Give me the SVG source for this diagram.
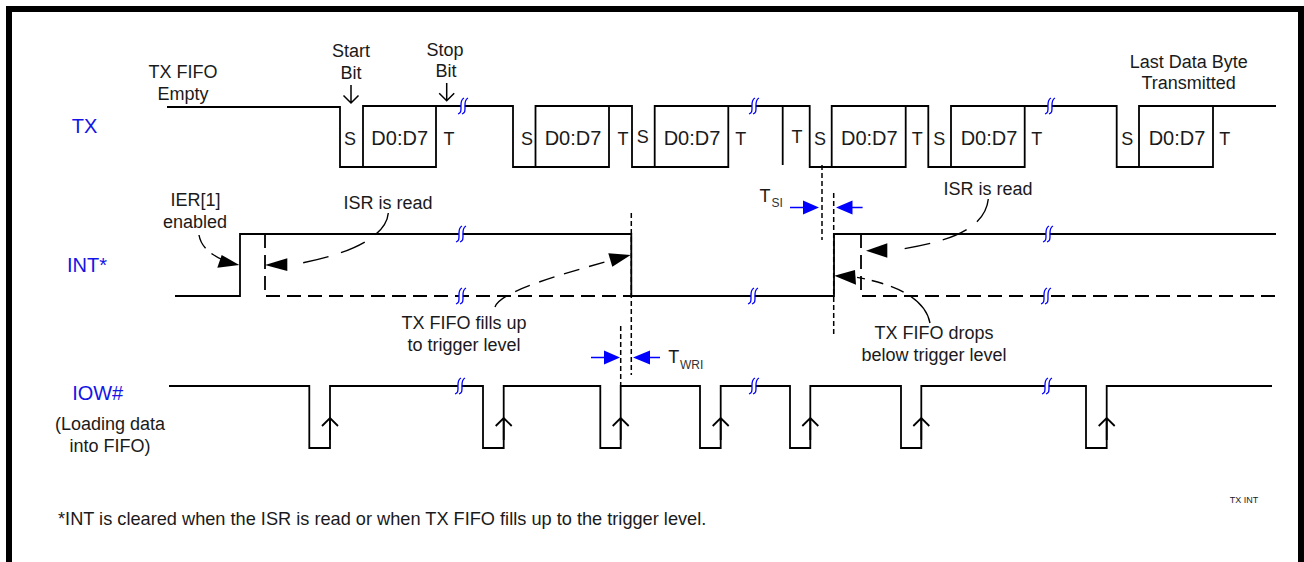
<svg xmlns="http://www.w3.org/2000/svg" width="1304" height="562" viewBox="0 0 1304 562">
<defs>
<style>
text{font-family:"Liberation Sans",Arial,sans-serif;font-size:18px;fill:#1a1a1a;text-anchor:middle}
.st{font-size:20px}
.lb{fill:#1414e6;font-size:20px}
.sub{font-size:12px;fill:#333;text-anchor:start}
.w{fill:none;stroke:#000;stroke-width:1.8}
.d{fill:none;stroke:#000;stroke-width:1.8;stroke-dasharray:14 7}
.dc{fill:none;stroke:#000;stroke-width:1.4;stroke-dasharray:26 13}
.do{fill:none;stroke:#000;stroke-width:1.5;stroke-dasharray:5 3}
.bl{stroke:#0000ff;stroke-width:1.3;fill:none}
.bf{fill:#0000ff}
.k{fill:#000}
.up{fill:none;stroke:#000;stroke-width:1.8}
</style>
<g id="brk"><path d="M1,-8C-3,-6 -2,-1 -2,2C-2,5 -2,7 -5,8H-1C2,7 2,5 2,2C2,-1 1,-6 5,-8Z" fill="#fff" stroke="none"/><path d="M1,-8C-3,-6 -2,-1 -2,2C-2,5 -2,7 -5,8M5,-8C1,-6 2,-1 2,2C2,5 2,7 -1,8" fill="none" stroke="#0000ff" stroke-width="1.3"/></g>
<path id="upa" d="M0,22V0M-8,8L0,0L8,8" class="up"/>
</defs>
<rect id="bg" width="1304" height="562" fill="#fff"/>
<path id="frame" d="M6,6H1304V562H1298V12H12V562H6Z" fill="#000"/>

<g id="connectors">
<!-- TX -->
<path class="w" d="M167,107H340V167H363M363,167V106H436M363,167H436V106H513V167H535.5V106H609M535.5,167H609V106H632V167H654.7V106H728.3M654.7,167H728.3V106H809.7V167H831.7V106H905.7M831.7,167H905.7V106H928.3V167H951V106H1024.7M951,167H1024.7V106H1116.7V167H1139V106H1213M1139,167H1213V106H1276"/>
<path class="w" d="M782.7,106V165"/>
<!-- INT -->
<path class="w" d="M175,296H240V234H631.3V296H834V234H1276"/>
<path class="d" d="M265,234V296H631"/>
<path class="d" d="M861,234V296H1276"/>
<!-- IOW -->
<path class="w" d="M169,386H309.3V448H330V386H483V448H503.7V386H600.3V448H620.7V386H700V448H720.7V386H790V448H810.3V386H901V448H921.3V386H1086V448H1106.7V386H1272"/>
<use href="#upa" x="330" y="418"/>
<use href="#upa" x="503.7" y="418"/>
<use href="#upa" x="620.7" y="418"/>
<use href="#upa" x="720.7" y="418"/>
<use href="#upa" x="810.3" y="418"/>
<use href="#upa" x="921.3" y="418"/>
<use href="#upa" x="1106.7" y="418"/>
<!-- timing guides -->
<path class="do" d="M631.3,213V375"/>
<path class="do" d="M620.7,326V386"/>
<path class="do" d="M822,165V240"/>
<path class="do" d="M833.7,193V335"/>
<!-- blue arrows -->
<path class="bl" d="M790,207.5H805M846,207.5H862.6M591,357.5H606M648,357.5H660"/>
<path class="bf" d="M819,207.5L803,200.5V214.5ZM836,207.5L852.5,200.5V214.5ZM620,357.5L604,350.5V364.5ZM633,357.5L650,350.5V364.5Z"/>
<!-- callouts -->
<path class="dc" style="stroke-dasharray:15 8" d="M199,235C201,247 211,255 225,261"/>
<path class="k" d="M239.3,265L217.3,267.7L221.7,255Z"/>
<path class="dc" d="M388.3,213C386,240 340,256 299,263.5"/>
<path class="k" d="M265,265L287.3,258.3V271Z"/>
<path class="dc" style="stroke-dasharray:16 10" d="M495,307C500,292 555,276 612,260"/>
<path class="k" d="M630.7,255L608.3,253.3L612.3,266.7Z"/>
<path class="dc" d="M988.3,199C985,232 940,243 899,249.5"/>
<path class="k" d="M866,250.7L887.3,243.3V257.7Z"/>
<path class="dc" style="stroke-dasharray:34 8 14 8 12 7 8" d="M930,323C925,298 895,284 855,277"/>
<path class="k" d="M834.3,275.7L855,270L856,284.7Z"/>
<!-- breaks -->
<use href="#brk" x="463" y="106"/>
<use href="#brk" x="754" y="106"/>
<use href="#brk" x="1050" y="106"/>
<use href="#brk" x="461" y="234"/>
<use href="#brk" x="1048" y="234"/>
<use href="#brk" x="461" y="296"/>
<use href="#brk" x="753" y="296"/>
<use href="#brk" x="1046" y="296"/>
<use href="#brk" x="460" y="386"/>
<use href="#brk" x="754" y="386"/>
<use href="#brk" x="1047" y="386"/>
<!-- bit pointers -->
<path class="w" style="stroke-width:1.5" d="M351,85V103M343.5,95.5L351,103L358.5,95.5"/>
<path class="w" style="stroke-width:1.5" d="M446.7,83V100.7M439.2,93.2L446.7,100.7L454.2,93.2"/>
</g>

<g id="label-tx"><text class="lb" x="84.5" y="132.5">TX</text></g>
<g id="label-int"><text class="lb" x="87" y="272">INT*</text></g>
<g id="label-iow"><text class="lb" x="97.7" y="400">IOW#</text></g>
<g id="note-iow"><text x="110" y="430">(Loading data</text><text x="110" y="451.7">into FIFO)</text></g>
<g id="note-empty"><text x="183" y="78.3">TX FIFO</text><text x="183" y="100">Empty</text></g>
<g id="note-start"><text x="351" y="57.3">Start</text><text x="351" y="79.3">Bit</text></g>
<g id="note-stop"><text x="445" y="55.7">Stop</text><text x="446" y="77.3">Bit</text></g>
<g id="note-last"><text x="1188.7" y="67.7">Last Data Byte</text><text x="1188.7" y="89">Transmitted</text></g>
<g id="bits">
<text x="350" y="144.5">S</text><text class="st" x="399.7" y="145">D0:D7</text><text x="449" y="145">T</text>
<text x="527" y="145">S</text><text class="st" x="573" y="145">D0:D7</text><text x="623" y="145">T</text>
<text x="642.7" y="143.3">S</text><text class="st" x="692" y="145">D0:D7</text><text x="740.7" y="145">T</text>
<text x="797" y="142.7">T</text><text x="820" y="145">S</text><text class="st" x="869.3" y="145">D0:D7</text><text x="917.3" y="145">T</text>
<text x="939.3" y="145">S</text><text class="st" x="989" y="145">D0:D7</text><text x="1036.7" y="145">T</text>
<text x="1127.3" y="145">S</text><text class="st" x="1177" y="145">D0:D7</text><text x="1224.7" y="145">T</text>
</g>
<g id="note-ier"><text x="195.5" y="206">IER[1]</text><text x="195" y="228.3">enabled</text></g>
<g id="note-isr1"><text x="388" y="209">ISR is read</text></g>
<g id="note-isr2"><text x="988" y="195">ISR is read</text></g>
<g id="note-fills"><text x="464" y="329">TX FIFO fills up</text><text x="464" y="350.7">to trigger level</text></g>
<g id="note-drops"><text x="934" y="338.7">TX FIFO drops</text><text x="934" y="360.7">below trigger level</text></g>
<g id="label-tsi"><text x="765" y="201.7">T</text><text class="sub" x="771.5" y="207">SI</text></g>
<g id="label-twri"><text x="673.7" y="363.3">T</text><text class="sub" x="680" y="369.3">WRI</text></g>
<g id="footnote"><text x="58" y="525" style="text-anchor:start;font-size:18.2px">*INT is cleared when the ISR is read or when TX FIFO fills up to the trigger level.</text></g>
<g id="tag"><text x="1244" y="503.3" style="font-size:9px">TX INT</text></g>
</svg>
